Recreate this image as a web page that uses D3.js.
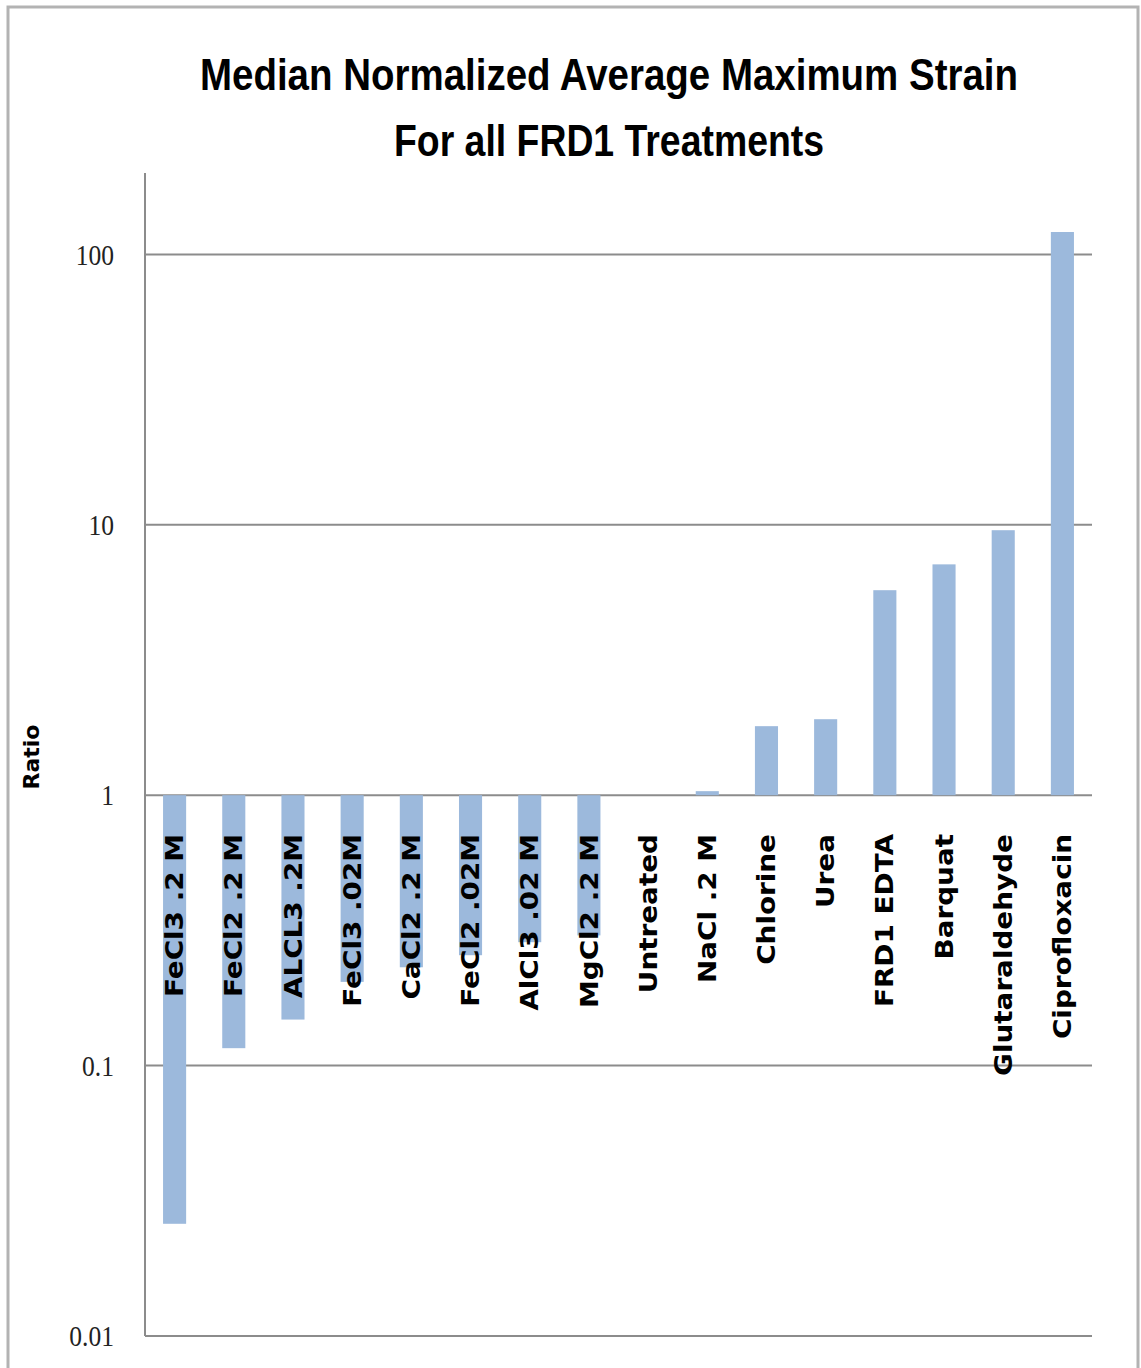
<!DOCTYPE html>
<html>
<head>
<meta charset="utf-8">
<script src="https://cdn.jsdelivr.net/npm/d3@7"></script>
<style>
  body { margin: 0; background: #fff; }
</style>
</head>
<body>
<div id="chart"></div>
<script>
const treatments = ["FeCl3 .2 M", "FeCl2 .2 M", "ALCL3 .2M", "FeCl3 .02M", "CaCl2 .2 M",
  "FeCl2 .02M", "AlCl3 .02 M", "MgCl2 .2 M", "Untreated", "NaCl .2 M", "Chlorine",
  "Urea", "FRD1 EDTA", "Barquat", "Glutaraldehyde", "Ciprofloxacin"];
const ratios = [0.026, 0.116, 0.148, 0.204, 0.231, 0.256, 0.286, 0.303, 1, 1.035,
  1.8, 1.91, 5.73, 7.14, 9.55, 121];
const yTicks = [0.01, 0.1, 1, 10, 100];
const titleLines = ["Median Normalized Average Maximum Strain", "For all FRD1 Treatments"];

const width = 1141, height = 1368;
const plot = {left: 145, right: 1092, top: 173, bottom: 1336};

const svg = d3.select("#chart").append("svg")
  .attr("width", width)
  .attr("height", height);

// outer chart frame
svg.append("rect")
  .attr("x", 8).attr("y", 7)
  .attr("width", 1130).attr("height", 1380)
  .attr("fill", "none")
  .attr("stroke", "#b3b3b3")
  .attr("stroke-width", 3);

const x = d3.scaleBand()
  .domain(treatments)
  .range([plot.left, plot.right])
  .paddingInner(0.61)
  .paddingOuter(0.305);

const y = d3.scaleLog()
  .domain([0.01, 200])
  .range([plot.bottom, plot.top]);

// gridlines
svg.append("g")
  .selectAll("line")
  .data(yTicks)
  .join("line")
    .attr("x1", plot.left).attr("x2", plot.right)
    .attr("y1", d => y(d)).attr("y2", d => y(d))
    .attr("stroke", "#8c8c8c")
    .attr("stroke-width", 2);

// bars hang from 1
svg.append("g")
  .selectAll("rect")
  .data(treatments)
  .join("rect")
    .attr("x", d => x(d))
    .attr("width", x.bandwidth())
    .attr("y", (d, i) => Math.min(y(ratios[i]), y(1)))
    .attr("height", (d, i) => Math.abs(y(ratios[i]) - y(1)))
    .attr("fill", "#9cb9dc");

// y axis line
svg.append("line")
  .attr("x1", plot.left).attr("x2", plot.left)
  .attr("y1", plot.top).attr("y2", plot.bottom)
  .attr("stroke", "#8c8c8c")
  .attr("stroke-width", 2);

// tick labels
svg.append("g")
  .style("font", "29px 'Liberation Serif', serif")
  .attr("text-anchor", "end")
  .selectAll("text")
  .data(yTicks)
  .join("text")
    .attr("transform", d => `translate(114,${y(d)}) scale(0.88,1)`)
    .attr("dy", "0.35em")
    .attr("fill", "#222")
    .text(d => d3.format("~g")(d));

// category labels, rotated and stretched along their length
svg.append("g")
  .style("font", "bold 24px 'DejaVu Sans', sans-serif")
  .attr("text-anchor", "end")
  .selectAll("text")
  .data(treatments)
  .join("text")
    .attr("transform", d => `translate(${x(d) + x.bandwidth() / 2},834) rotate(-90) scale(1.16,1)`)
    .attr("dy", "0.36em")
    .attr("fill", "#000")
    .text(d => d);

// y axis title
svg.append("text")
  .attr("transform", "translate(31,757) rotate(-90)")
  .attr("text-anchor", "middle")
  .attr("dy", "0.36em")
  .style("font", "bold 22px 'DejaVu Sans', sans-serif")
  .text("Ratio");

// chart title
svg.append("g")
  .style("font", "bold 44px 'Liberation Sans Narrow', 'Liberation Sans', sans-serif")
  .attr("text-anchor", "middle")
  .selectAll("text")
  .data(titleLines)
  .join("text")
    .attr("x", 609)
    .attr("y", (d, i) => 90 + i * 66)
    .attr("textLength", (d, i) => i === 0 ? 818 : 430)
    .attr("lengthAdjust", "spacingAndGlyphs")
    .text(d => d);
</script>
</body>
</html>
